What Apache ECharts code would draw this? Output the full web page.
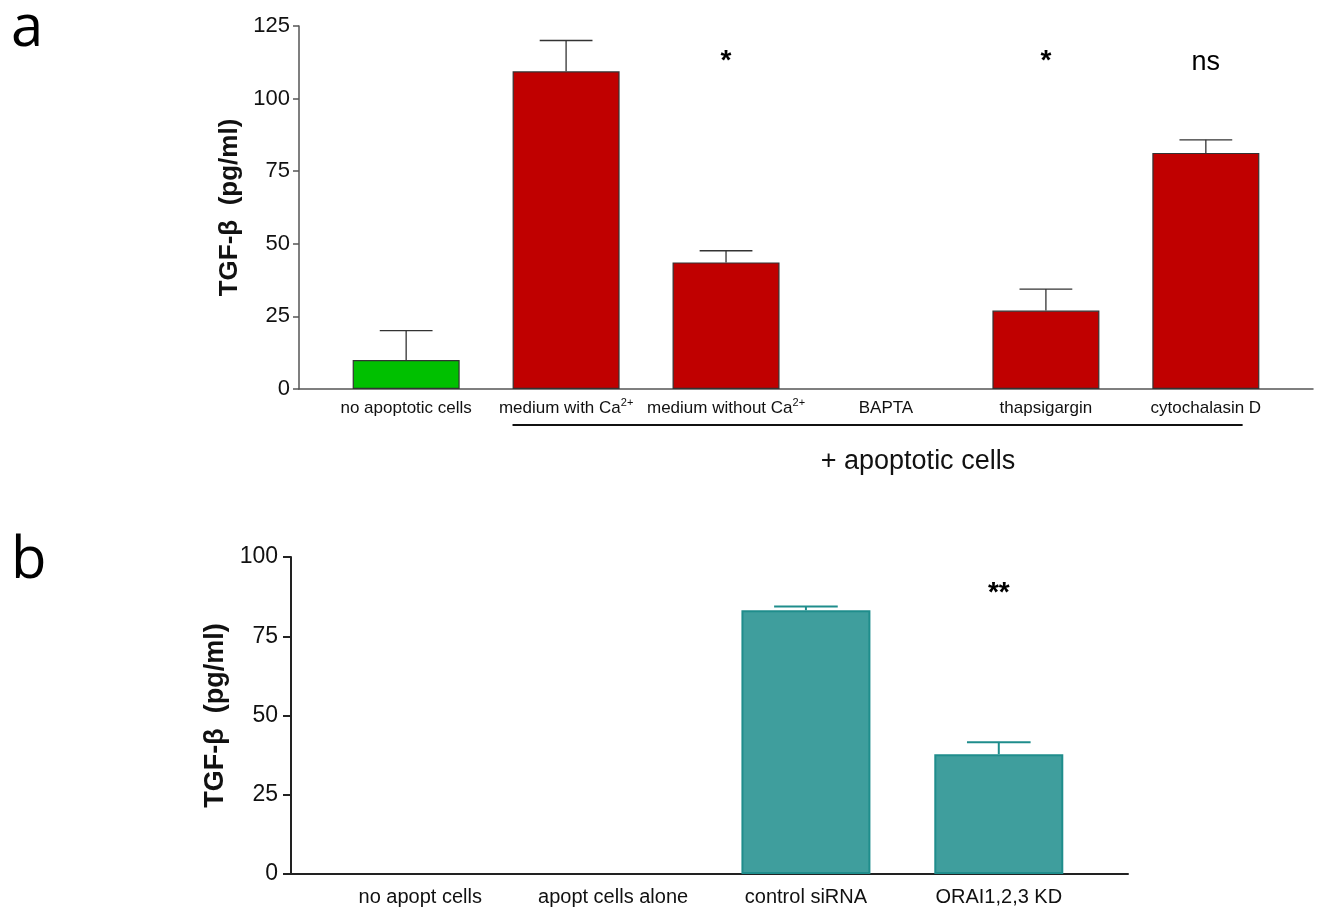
<!DOCTYPE html>
<html>
<head>
<meta charset="utf-8">
<script src="https://cdn.jsdelivr.net/npm/echarts@6/dist/echarts.min.js"></script>
<style>html,body{margin:0;padding:0;background:#fff}#c{width:1323px;height:911px}</style>
</head>
<body>
<div id="c"></div>
<script>
// ---- Panel a data ----
const catsA = ['no apoptotic cells', 'medium with Ca{sup|2+}', 'medium without Ca{sup|2+}', 'BAPTA', 'thapsigargin', 'cytochalasin D'];
const valsA = [10, 109.4, 43.6, null, 27.0, 81.3];
const errA  = [20.1, 120.0, 47.6, null, 34.4, 85.8];
const sigA  = ['', '', '*', '', '*', 'ns'];
const ticksA = [0, 25, 50, 75, 100, 125];

// ---- Panel b data ----
const catsB = ['no apopt cells', 'apopt cells alone', 'control siRNA', 'ORAI1,2,3 KD'];
const valsB = [null, null, 83.2, 37.8];
const errB  = [null, null, 84.4, 41.6];
const sigB  = ['', '', '', '**'];
const ticksB = [0, 25, 50, 75, 100];

const FONT = 'Liberation Sans, Arial, sans-serif';
const RED = '#c00000', GREEN = '#00c000', TEAL = '#3f9e9d', TEAL_D = '#1f8d8c';

const chart = echarts.init(document.getElementById('c'), null, {renderer: 'canvas'});

function errSeries(gridIdx, vals, errs, color, lw) {
  const data = [];
  vals.forEach((v, i) => { if (v != null && errs[i] != null) data.push([i, v, errs[i]]); });
  return {
    type: 'custom', xAxisIndex: gridIdx, yAxisIndex: gridIdx, z: 3,
    data: data,
    renderItem: function (params, api) {
      const x = api.value(0);
      const p0 = api.coord([x, api.value(1)]);
      const p1 = api.coord([x, api.value(2)]);
      const half = api.size([1, 0])[0] * 0.165;
      return {
        type: 'group',
        children: [
          {type: 'line', shape: {x1: p0[0], y1: p0[1], x2: p1[0], y2: p1[1]}, style: {stroke: color, lineWidth: lw}},
          {type: 'line', shape: {x1: p1[0] - half, y1: p1[1], x2: p1[0] + half, y2: p1[1]}, style: {stroke: color, lineWidth: lw}}
        ]
      };
    }
  };
}

function sigSeries(gridIdx, labels, yPos, starShift) {
  const data = [];
  labels.forEach((s, i) => {
    if (!s) return;
    const star = s.indexOf('*') >= 0;
    data.push({
      value: [i, yPos],
      label: {
        formatter: s,
        fontWeight: star ? 'bold' : 'normal',
        fontSize: star ? 28 : 27,
        offset: [0, star ? starShift : 0]
      }
    });
  });
  return {
    type: 'scatter', xAxisIndex: gridIdx, yAxisIndex: gridIdx, symbolSize: 0, silent: true,
    data: data,
    label: {show: true, position: 'inside', color: '#000', opacity: 1, textBorderWidth: 0, fontFamily: FONT}
  };
}

const option = {
  animation: false,
  backgroundColor: '#fff',
  title: [
    {text: 'a', left: 6, top: -5, textStyle: {fontFamily: 'Open Sans', fontWeight: 'normal', fontSize: 58, color: '#000'}},
    {text: 'b', left: 6, top: 527, textStyle: {fontFamily: 'Open Sans', fontWeight: 'normal', fontSize: 58, color: '#000'}}
  ],
  grid: [
    {left: 299, top: 26, width: 1014, height: 363},
    {left: 291, top: 557, width: 837, height: 317}
  ],
  xAxis: [
    {
      type: 'value', gridIndex: 0, min: -0.67, max: 5.67,
      splitLine: {show: false}, axisTick: {show: false},
      axisLine: {show: true, onZero: false, lineStyle: {color: '#555', width: 1.5}},
      axisLabel: {
        customValues: [0, 1, 2, 3, 4, 5], margin: 8,
        formatter: v => catsA[Math.round(v)] || '',
        color: '#111', fontSize: 17, fontFamily: FONT, lineHeight: 22,
        rich: {sup: {fontSize: 11, fontFamily: FONT, color: '#111', verticalAlign: 'top', lineHeight: 12}}
      }
    },
    {
      type: 'value', gridIndex: 1, min: -0.67, max: 3.67,
      splitLine: {show: false}, axisTick: {show: false},
      axisLine: {show: true, onZero: false, lineStyle: {color: '#222', width: 2}},
      axisLabel: {
        customValues: [0, 1, 2, 3], margin: 13,
        formatter: v => catsB[Math.round(v)] || '',
        color: '#111', fontSize: 20, fontFamily: FONT
      }
    }
  ],
  yAxis: [
    {
      type: 'value', gridIndex: 0, min: 0, max: 125, interval: 25,
      name: 'TGF-\u03b2  (pg/ml)', nameLocation: 'middle', nameGap: 56, nameRotate: 90,
      nameTextStyle: {fontFamily: FONT, fontWeight: 'bold', fontSize: 26, color: '#111'},
      splitLine: {show: false},
      axisLine: {show: true, onZero: false, lineStyle: {color: '#555', width: 1.5}},
      axisTick: {show: true, length: 6, lineStyle: {color: '#555', width: 1.5}},
      axisLabel: {margin: 9, color: '#111', fontSize: 22, fontFamily: FONT}
    },
    {
      type: 'value', gridIndex: 1, min: 0, max: 100, interval: 25,
      name: 'TGF-\u03b2  (pg/ml)', nameLocation: 'middle', nameGap: 62, nameRotate: 90,
      nameTextStyle: {fontFamily: FONT, fontWeight: 'bold', fontSize: 27, color: '#111'},
      splitLine: {show: false},
      axisLine: {show: true, onZero: false, lineStyle: {color: '#222', width: 2}},
      axisTick: {show: true, length: 8, lineStyle: {color: '#222', width: 2}},
      axisLabel: {margin: 13, color: '#111', fontSize: 23, fontFamily: FONT}
    }
  ],
  series: [
    {
      type: 'bar', xAxisIndex: 0, yAxisIndex: 0, barWidth: 107, z: 2,
      data: valsA.map((v, i) => [i, v]),
      itemStyle: {
        color: p => (p.dataIndex === 0 ? GREEN : RED),
        borderColor: '#333', borderWidth: 1.2
      }
    },
    errSeries(0, valsA, errA, '#333', 1.3),
    sigSeries(0, sigA, 112.5, -1),
    {
      type: 'bar', xAxisIndex: 1, yAxisIndex: 1, barWidth: 129, z: 2,
      data: valsB.map((v, i) => [i, v]),
      itemStyle: {color: TEAL, borderColor: TEAL_D, borderWidth: 2}
    },
    errSeries(1, valsB, errB, TEAL_D, 2),
    sigSeries(1, sigB, 89.6, 3)
  ]
};
chart.setOption(option);

// bracket under panel a labels, positioned through the axis scales
const pL = chart.convertToPixel({gridIndex: 0}, [0.665, 0]);
const pR = chart.convertToPixel({gridIndex: 0}, [5.23, 0]);
const pC = chart.convertToPixel({gridIndex: 0}, [3.2, 0]);
chart.setOption({
  graphic: [
    {type: 'line', shape: {x1: pL[0], y1: pL[1] + 36, x2: pR[0], y2: pR[1] + 36}, style: {stroke: '#111', lineWidth: 2}},
    {type: 'text', x: pC[0], y: pC[1] + 73, style: {text: '+ apoptotic cells', font: '27px ' + FONT, fill: '#111', align: 'center', verticalAlign: 'middle'}}
  ]
});
</script>
</body>
</html>
